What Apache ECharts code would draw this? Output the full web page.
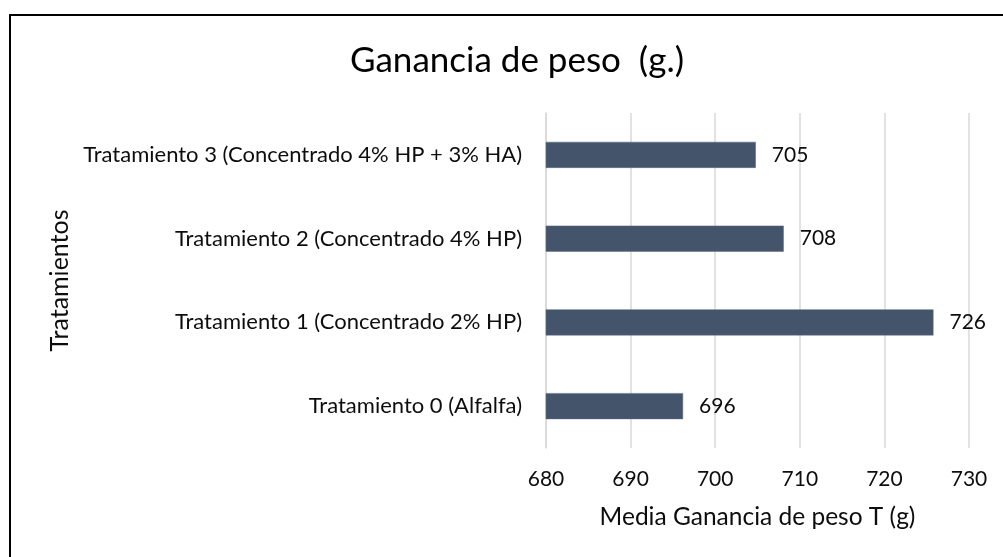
<!DOCTYPE html>
<html>
<head>
<meta charset="utf-8">
<script src="https://cdn.jsdelivr.net/npm/echarts@6/dist/echarts.min.js"></script>
<style>
  html, body { margin: 0; padding: 0; background: #ffffff; }
  #chart { width: 1003px; height: 557px; }
</style>
</head>
<body>
<div id="chart"></div>
<script>
// datos
const categories = [
  "Tratamiento 0 (Alfalfa)",
  "Tratamiento 1 (Concentrado 2% HP)",
  "Tratamiento 2 (Concentrado 4% HP)",
  "Tratamiento 3 (Concentrado 4% HP + 3% HA)",
];
const values = [696.2, 725.8, 708.1, 704.8];
const xTicks = [680, 690, 700, 710, 720, 730];

const FONT = "Lato";
let myChart = echarts.init(document.getElementById("chart"));
myChart.setOption({
  animation: false,
  backgroundColor: "#ffffff",
  title: {
    text: "Ganancia de peso  (g.)",
    left: 512,
    top: 38,
    textAlign: "center",
    textStyle: { fontFamily: FONT, fontSize: 35, fontWeight: "normal", color: "#000000" },
  },
  graphic: [
    {
      type: "polyline",
      shape: { points: [[10, 600], [10, 15], [1100, 15]] },
      style: { stroke: "#000000", lineWidth: 2, fill: null },
      silent: true,
    },
  ],
  grid: { left: 546, right: 34, top: 113, bottom: 109 },
  xAxis: {
    type: "value",
    min: xTicks[0],
    max: xTicks[xTicks.length - 1],
    interval: 10,
    name: "Media Ganancia de peso T (g)",
    nameLocation: "middle",
    nameGap: 57,
    nameTextStyle: { fontFamily: FONT, fontSize: 24.5, color: "#0d0d0d" },
    axisLine: { show: false },
    axisTick: { show: false },
    axisLabel: { fontFamily: FONT, fontSize: 21, color: "#0d0d0d", margin: 21 },
    splitLine: { lineStyle: { color: "#d9d9d9", width: 1.5 } },
  },
  yAxis: {
    type: "category",
    data: categories,
    name: "Tratamientos",
    nameLocation: "middle",
    nameGap: 474,
    nameRotate: 90,
    nameTextStyle: { fontFamily: FONT, fontSize: 25, color: "#0d0d0d" },
    axisLine: { lineStyle: { color: "#d9d9d9", width: 1.5 } },
    axisTick: { show: false },
    axisLabel: { fontFamily: FONT, fontSize: 22, color: "#0d0d0d", margin: 24 },
  },
  series: [
    {
      type: "bar",
      data: values,
      barWidth: 26,
      itemStyle: { color: "#44546A", borderColor: "#5a6880", borderWidth: 0.5 },
      label: {
        show: true,
        position: "right",
        distance: 16,
        fontFamily: FONT,
        fontSize: 21,
        color: "#0d0d0d",
        formatter: (p) => Math.round(p.value),
      },
    },
  ],
});
</script>
</body>
</html>
